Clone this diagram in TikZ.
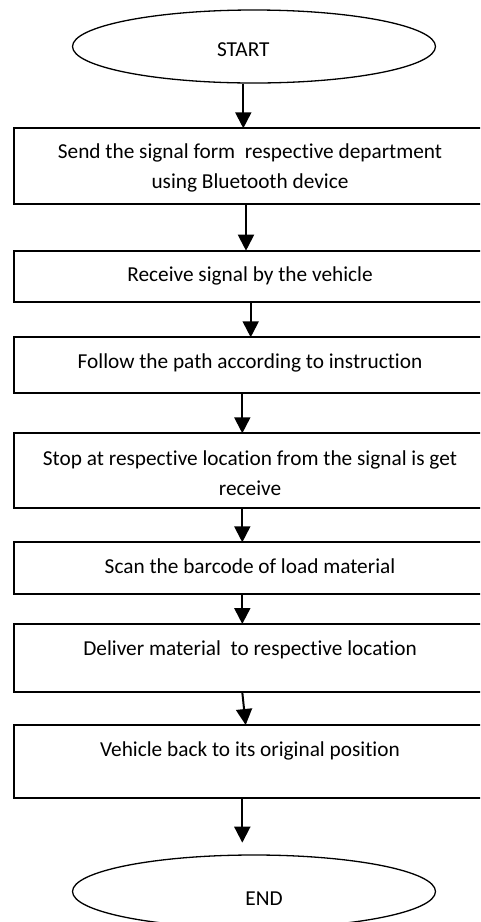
\documentclass[tikz,border=0pt]{standalone}
\usepackage{fontspec}
\setmainfont{Carlito}[Ligatures=NoCommon]
\usetikzlibrary{arrows.meta,shapes.geometric}

\tikzset{stepbox/.style={draw,line width=2pt,rectangle,anchor=north,minimum width=472pt,inner sep=0pt,outer sep=0pt,align=center}}
\tikzset{terminal/.style={draw,line width=1.3pt,ellipse,minimum width=363pt,minimum height=73pt,inner sep=0pt}}
\tikzset{flow/.style={line width=2pt,-{Triangle[width=16pt,length=16pt]}}}

\begin{document}
\begin{tikzpicture}[x=1pt, y=-1pt, font=\fontsize{21.3}{30}\selectfont]
	\useasboundingbox (0,0) rectangle (480,922);
	\clip (0,0) rectangle (480,922);
	
	% start and end
	\node [terminal, text height=19pt, text depth=0pt] (start) at (254,46.5) {START\hspace*{21.4pt}};
	\node [terminal, text height=28.4pt, text depth=0pt] (end) at (254,891.5) {\hspace*{20pt}END};
	
	% steps
	\node [stepbox, text height=60pt, text depth=15.7pt] (step-1) at (250,128.3)
	  {Send the signal form~ respective department\\using Bluetooth device};
	\node [stepbox, text height=31pt, text depth=20.6pt] (step-2) at (250,250.7)
	  {Receive signal by the vehicle};
	\node [stepbox, text height=31pt, text depth=25pt] (step-3) at (250,337.3)
	  {Follow the path according to instruction};
	\node [stepbox, text height=61.7pt, text depth=13.3pt] (step-4) at (250,433.3)
	  {Stop at respective location from the signal is get\\receive};
	\node [stepbox, text height=31pt, text depth=20.7pt] (step-5) at (250,542.3)
	  {Scan the barcode of load material};
	\node [stepbox, text height=31.7pt, text depth=36.6pt] (step-6) at (250,624)
	  {Deliver material~ to respective location};
	\node [stepbox, text height=31.7pt, text depth=41.6pt] (step-7) at (250,725)
	  {Vehicle back to its original position};
	
	% start -> first step
	\draw [flow] ([xshift=-10.7pt]start.south) -- ([xshift=-10.7pt]start.south |- step-1.north);
	
	% step -> step
	\foreach \a/\b/\s in {1/2/-4pt, 2/3/0.7pt, 3/4/-7.7pt, 4/5/-7.7pt, 5/6/-7.7pt}
	  \draw [flow] ([xshift=\s]step-\a.south) -- ([xshift=\s]step-\a.south |- step-\b.north);
	\draw [flow] ([xshift=-7.7pt]step-6.south) -- ([xshift=-4.3pt]step-7.north);
	
	% last step -> end
	\draw [flow, shorten >=11.7pt] ([xshift=-7.7pt]step-7.south) -- ([xshift=-7.7pt]step-7.south |- end.north);
	
\end{tikzpicture}
\end{document}
